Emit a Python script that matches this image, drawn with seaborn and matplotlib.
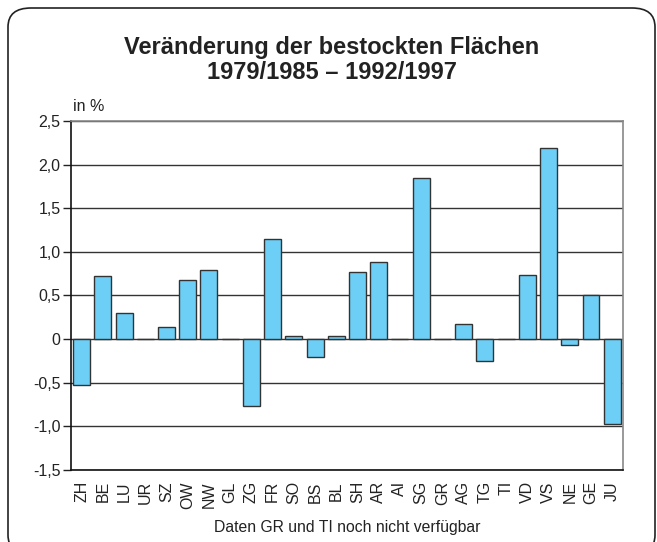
import matplotlib
matplotlib.use("Agg")
import matplotlib.pyplot as plt
from matplotlib.patches import FancyBboxPatch
import pandas as pd
import seaborn as sns

# --------------------------
# Data
# --------------------------
kantone = ["ZH", "BE", "LU", "UR", "SZ", "OW", "NW", "GL", "ZG", "FR", "SO", "BS", "BL",
           "SH", "AR", "AI", "SG", "GR", "AG", "TG", "TI", "VD", "VS", "NE", "GE", "JU"]
veraenderung = [-0.53, 0.72, 0.30, 0.0, 0.14, 0.68, 0.79, 0.0, -0.77, 1.15, 0.035, -0.21, 0.04,
                0.77, 0.88, 0.0, 1.85, 0.0, 0.17, -0.25, 0.0, 0.73, 2.19, -0.07, 0.51, -0.97]
y_ticks = [-1.5, -1.0, -0.5, 0, 0.5, 1.0, 1.5, 2.0, 2.5]
y_labels = ["-1,5", "-1,0", "-0,5", "0", "0,5", "1,0", "1,5", "2,0", "2,5"]

title = "Veränderung der bestockten Flächen\n1979/1985 – 1992/1997"
note = "Daten GR und TI noch nicht verfügbar"

df = pd.DataFrame({"kanton": kantone, "wert": veraenderung})

# --------------------------
# Plot
# --------------------------
sns.set_style("white")
plt.rcParams["font.family"] = ["Liberation Sans", "DejaVu Sans"]

fig = plt.figure(figsize=(6.57, 5.42), dpi=100)
ax = fig.add_axes([0.108, 0.1328, 0.84, 0.644])

ax.yaxis.grid(True, color="#333333", linewidth=1.0)
ax.set_axisbelow(True)

sns.barplot(data=df, x="kanton", y="wert", color="#6DCFF6", saturation=1,
            edgecolor="#333333", linewidth=1.0, width=0.8, ax=ax)

ax.set_ylim(-1.5, 2.5)
ax.set_yticks(y_ticks)
ax.set_yticklabels(y_labels, fontsize=11.5, color="#222222")
ax.set_xticklabels(kantone, rotation=90, fontsize=11.5, color="#222222")
ax.set_xlabel(note, fontsize=11.3, color="#222222", labelpad=8)
ax.set_ylabel("")
ax.tick_params(axis="y", length=6, width=1, color="#222222", pad=1.5, left=True)
ax.tick_params(axis="x", length=0, pad=8)

for side in ["left", "bottom"]:
    ax.spines[side].set_color("#111111")
    ax.spines[side].set_linewidth(1.2)
for side in ["top", "right"]:
    ax.spines[side].set_color("#888888")
    ax.spines[side].set_linewidth(1.2)

ax.text(0.003, 1.02, "in %", transform=ax.transAxes, fontsize=11.5, color="#222222",
        ha="left", va="bottom")

fig.text(0.505, 0.889, title, ha="center", va="center", fontsize=17,
         fontweight="bold", color="#222222", linespacing=1.1)

# rounded frame around the chart (bottom edge runs off the picture)
frame = FancyBboxPatch((8 / 657, -12 / 542), 647 / 657, 546 / 542,
                       boxstyle="round,pad=0,rounding_size=0.035",
                       transform=fig.transFigure, fill=False,
                       edgecolor="#222222", linewidth=1.2, clip_on=False)
fig.patches.append(frame)

fig.savefig("out.png", dpi=100)
